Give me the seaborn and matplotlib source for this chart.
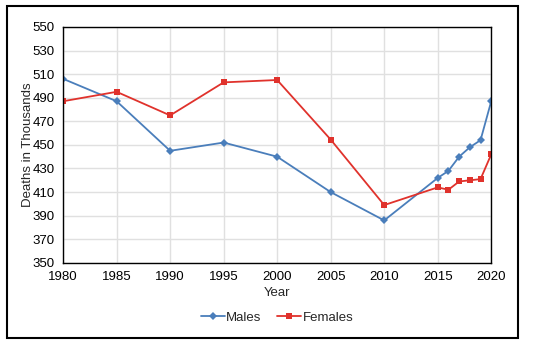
import matplotlib
matplotlib.use("Agg")
import matplotlib.pyplot as plt
import seaborn as sns
import pandas as pd
from matplotlib.ticker import MultipleLocator
from matplotlib.patches import Rectangle

years = [1980, 1985, 1990, 1995, 2000, 2005, 2010, 2015, 2016, 2017, 2018, 2019, 2020]
males = [506, 487, 445, 452, 440, 410, 386, 422, 428, 440, 448, 454, 487]
females = [487, 495, 475, 503, 505, 454.5, 399, 414, 412, 419, 420, 421, 442]
x_ticks = [1980, 1985, 1990, 1995, 2000, 2005, 2010, 2015, 2020]
y_ticks = list(range(350, 551, 20))

df = pd.concat([
    pd.DataFrame({"Year": years, "Deaths": males, "Sex": "Males"}),
    pd.DataFrame({"Year": years, "Deaths": females, "Sex": "Females"}),
])

sns.set_style("white")
plt.rcParams['font.family'] = ['Liberation Sans', 'DejaVu Sans']

fig = plt.figure(figsize=(5.44, 3.45), dpi=100)
ax = fig.add_axes([0.116, 0.238, 0.787, 0.684])

palette = {"Males": "#4a7ebb", "Females": "#e0322c"}
sns.lineplot(data=df, x="Year", y="Deaths", hue="Sex", style="Sex",
             markers={"Males": "D", "Females": "s"}, dashes=False,
             palette=palette, ax=ax, linewidth=1.3, markersize=3.8,
             markeredgewidth=0)

ax.set_xlim(1980, 2020)
ax.set_ylim(350, 550)
ax.set_xticks(x_ticks)
ax.set_yticks(y_ticks)
ax.xaxis.set_minor_locator(MultipleLocator(1))
ax.yaxis.set_minor_locator(MultipleLocator(4))
ax.grid(True, which="major", color="#e0e0e0", linewidth=1)
ax.set_axisbelow(True)
for s in ax.spines.values():
    s.set_color("black")
    s.set_linewidth(1)
ax.tick_params(axis="both", which="major", direction="inout", length=6, width=1,
               labelsize=9.5, colors="black", pad=3)
ax.tick_params(axis="x", which="minor", direction="in", length=3, width=0.8)
ax.tick_params(axis="y", which="minor", direction="out", length=3, width=0.8)
ax.set_xlabel("Year", fontsize=9.5, labelpad=3)
ax.set_ylabel("Deaths in Thousands", fontsize=9.5, labelpad=-1)

handles, labels = ax.get_legend_handles_labels()
ax.legend(handles, labels, loc="upper center", bbox_to_anchor=(0.5, -0.155),
          ncol=2, frameon=False, fontsize=9.5, handlelength=1.8,
          handletextpad=0.1, columnspacing=1.2)

fig.patches.append(Rectangle((0.013, 0.02), 0.939, 0.963, transform=fig.transFigure,
                             fill=False, edgecolor="black", linewidth=1.5))

fig.savefig("out.png", dpi=100)
